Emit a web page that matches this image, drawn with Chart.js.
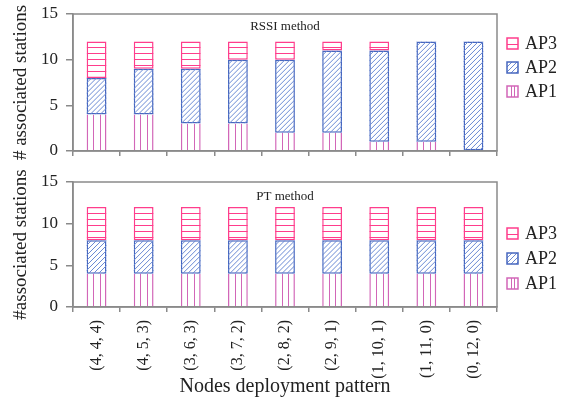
<!DOCTYPE html>
<html>
<head>
<meta charset="utf-8">
<script src="https://cdn.jsdelivr.net/npm/chart.js@4"></script>
<style>
  body { margin: 0; background: #fff; }
  #wrap { position: relative; width: 568px; height: 397px; font-family: "Liberation Serif", serif; overflow: hidden; }
  canvas.grafico { position: absolute; left: 0; }
  #graficoTopo { top: 0; }
  #graficoBaixo { top: 165px; }
  .item { position: absolute; left: 506px; height: 22px; display: flex; align-items: center; font-size: 18px; color: #222; white-space: nowrap; }
  .item span { margin-left: 6px; }
</style>
</head>
<body>
<div id="wrap">
  <canvas id="graficoTopo" class="grafico" width="568" height="165"></canvas>
  <canvas id="graficoBaixo" class="grafico" width="568" height="232"></canvas>
</div>
<script>
const categorias = ["(4, 4, 4)", "(4, 5, 3)", "(3, 6, 3)", "(3, 7, 2)", "(2, 8, 2)", "(2, 9, 1)", "(1, 10, 1)", "(1, 11, 0)", "(0, 12, 0)"];
const rssiAP1 = [4, 4, 3, 3, 2, 2, 1, 1, 0];
const rssiAP2 = [4, 5, 6, 7, 8, 9, 10, 11, 12];
const rssiAP3 = [4, 3, 3, 2, 2, 1, 1, 0, 0];
const ptAP1 = [4, 4, 4, 4, 4, 4, 4, 4, 4];
const ptAP2 = [4, 4, 4, 4, 4, 4, 4, 4, 4];
const ptAP3 = [4, 4, 4, 4, 4, 4, 4, 4, 4];
const ticksY = [0, 5, 10, 15];

const corAP1 = "#d266b8";
const corAP2 = "#4767bf";
const corAP2linha = "#6a8ad4";
const corAP3 = "#ff3d8c";
const corEixo = "#8a8a8a";
const fonte = "Liberation Serif";

function desenharHachura(ctx, tipo, x, y, w, h) {
  ctx.save();
  ctx.beginPath();
  ctx.rect(x, y, w, h);
  ctx.clip();
  ctx.lineWidth = 1;
  ctx.beginPath();
  if (tipo === "vertical") {
    ctx.strokeStyle = corAP1;
    for (let i = 1; i < 3; i++) {
      const xx = Math.round(x + w * i / 3) + 0.5;
      ctx.moveTo(xx, y);
      ctx.lineTo(xx, y + h);
    }
  } else if (tipo === "diagonal") {
    ctx.strokeStyle = corAP2linha;
    for (let d = -h; d < w + h; d += 5) {
      ctx.moveTo(x + d, y + h);
      ctx.lineTo(x + d + h, y);
    }
  } else {
    ctx.strokeStyle = corAP3;
    for (let yy = y + 5.9; yy < y + h - 1; yy += 5.9) {
      ctx.moveTo(x, Math.round(yy) + 0.5);
      ctx.lineTo(x + w, Math.round(yy) + 0.5);
    }
  }
  ctx.stroke();
  ctx.restore();
}

const hachuras = {
  id: "hachuras",
  afterDatasetDraw(chart, args) {
    const tipo = chart.data.datasets[args.index].hachura;
    const ctx = chart.ctx;
    args.meta.data.forEach(el => {
      const p = el.getProps(["x", "y", "base", "width"], true);
      const topo = Math.min(p.y, p.base);
      const alt = Math.abs(p.base - p.y);
      if (alt < 0.5) return;
      desenharHachura(ctx, tipo, p.x - p.width / 2, topo, p.width, alt);
    });
  }
};

const moldura = {
  id: "moldura",
  afterDraw(chart, args, opts) {
    const { ctx, chartArea } = chart;
    ctx.save();
    ctx.strokeStyle = corEixo;
    ctx.lineWidth = 1.5;
    ctx.strokeRect(chartArea.left, chartArea.top, chartArea.right - chartArea.left, chartArea.bottom - chartArea.top);
    ctx.fillStyle = "#222";
    ctx.font = "13px '" + fonte + "'";
    ctx.textAlign = "center";
    ctx.textBaseline = "middle";
    ctx.fillText(opts.texto, (chartArea.left + chartArea.right) / 2, chartArea.top + opts.dy);
    ctx.restore();
  }
};

function montarDatasets(ap1, ap2, ap3) {
  return [
    { label: "AP1", data: ap1, hachura: "vertical", backgroundColor: "#fff", borderColor: corAP1,
      borderWidth: { left: 1.5, right: 1.5, top: 0, bottom: 0 }, borderSkipped: false },
    { label: "AP2", data: ap2, hachura: "diagonal", backgroundColor: "#fff", borderColor: corAP2,
      borderWidth: 1.5, borderSkipped: false },
    { label: "AP3", data: ap3, hachura: "horizontal", backgroundColor: "#fff", borderColor: corAP3,
      borderWidth: 1.5, borderSkipped: false }
  ];
}

function montarOpcoes(texto, dy, topo, alturaX, tituloY, mostrarX) {
  return {
    responsive: false,
    animation: false,
    layout: { padding: { top: topo, right: 71, left: 0, bottom: 0 } },
    datasets: { bar: { categoryPercentage: 0.42, barPercentage: 1 } },
    plugins: {
      legend: { display: false },
      tooltip: { enabled: false },
      moldura: { texto, dy }
    },
    scales: {
      x: {
        stacked: true,
        grid: { drawOnChartArea: false, offset: true, tickLength: 5, color: corEixo, lineWidth: 1.5 },
        border: { color: corEixo, width: 1.5 },
        ticks: { display: mostrarX, autoSkip: false, minRotation: 90, maxRotation: 90, padding: 8,
                 color: "#222", font: { family: fonte, size: 16 } },
        title: { display: mostrarX, text: "Nodes deployment pattern", color: "#222",
                 font: { family: fonte, size: 20, lineHeight: 1 }, padding: { top: 0, bottom: 0 } },
        afterFit(scale) { scale.height = alturaX; }
      },
      y: {
        stacked: true,
        min: ticksY[0],
        max: ticksY[ticksY.length - 1],
        afterBuildTicks(scale) { scale.ticks = ticksY.map(v => ({ value: v })); },
        grid: { drawOnChartArea: false, tickLength: 7, color: corEixo, lineWidth: 1.5 },
        border: { color: corEixo, width: 1.5 },
        // lineHeight pequeno so para o layout nao empurrar a area do grafico
        ticks: { padding: 8, color: "#222", font: { family: fonte, size: 17, lineHeight: 0.3 } },
        title: { display: true, text: tituloY, color: "#222",
                 font: { family: fonte, size: 19 }, padding: { top: 10, bottom: 0 } },
        afterFit(scale) { scale.width = 73; }
      }
    }
  };
}

new Chart(document.getElementById("graficoTopo"), {
  type: "bar",
  data: { labels: categorias, datasets: montarDatasets(rssiAP1, rssiAP2, rssiAP3) },
  options: montarOpcoes("RSSI method", 12.5, 14, 14, "# associated stations", false),
  plugins: [hachuras, moldura]
});

new Chart(document.getElementById("graficoBaixo"), {
  type: "bar",
  data: { labels: categorias, datasets: montarDatasets(ptAP1, ptAP2, ptAP3) },
  options: montarOpcoes("PT method", 15, 17, 90, "#associated stations", true),
  plugins: [hachuras, moldura]
});

// legenda em HTML com icones desenhados no canvas
const itensLegenda = [
  { texto: "AP3", tipo: "horizontal", cor: corAP3 },
  { texto: "AP2", tipo: "diagonal", cor: corAP2 },
  { texto: "AP1", tipo: "vertical", cor: corAP1 }
];

function montarLegenda(centros) {
  const wrap = document.getElementById("wrap");
  itensLegenda.forEach((it, i) => {
    const div = document.createElement("div");
    div.className = "item";
    div.style.top = (centros[i] - 11) + "px";
    const c = document.createElement("canvas");
    c.width = 13;
    c.height = 13;
    const ctx = c.getContext("2d");
    ctx.fillStyle = "#fff";
    ctx.fillRect(0, 0, 13, 13);
    desenharHachura(ctx, it.tipo, 1, 1, 11, 11);
    ctx.strokeStyle = it.cor;
    ctx.lineWidth = 1.5;
    ctx.strokeRect(1, 1, 11, 11);
    const span = document.createElement("span");
    span.textContent = it.texto;
    div.appendChild(c);
    div.appendChild(span);
    wrap.appendChild(div);
  });
}

montarLegenda([43, 67, 91]);
montarLegenda([233, 258, 283]);
</script>
</body>
</html>
